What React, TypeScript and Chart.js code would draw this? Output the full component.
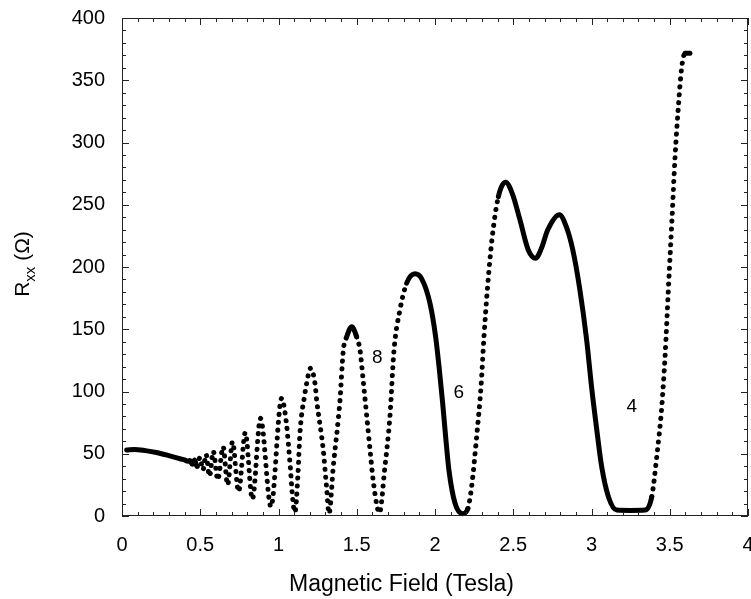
import React, { useEffect, useRef } from "react";
import { Chart, registerables } from "chart.js";

Chart.register(...registerables);

// Magnetic field (T) sampled along the trace
const fieldTesla = [
  0.03, 0.08, 0.15, 0.22, 0.30, 0.37, 0.40, 0.42, 0.434, 0.449,
  0.464, 0.48, 0.498, 0.517, 0.537, 0.559, 0.583, 0.612, 0.646, 0.675,
  0.706, 0.745, 0.788, 0.833, 0.885, 0.952, 1.02, 1.05, 1.075, 1.09,
  1.105, 1.125, 1.137, 1.169, 1.18, 1.204, 1.233, 1.244, 1.286, 1.307,
  1.323, 1.35, 1.393, 1.414, 1.436, 1.468, 1.499, 1.521, 1.543, 1.564,
  1.585, 1.607, 1.645, 1.68, 1.712, 1.738, 1.776, 1.819, 1.872, 1.915,
  1.968, 2.004, 2.028, 2.049, 2.068, 2.089, 2.128, 2.177, 2.21, 2.234,
  2.266, 2.294, 2.313, 2.336, 2.366, 2.405, 2.451, 2.494, 2.543, 2.596,
  2.643, 2.68, 2.72, 2.795, 2.84, 2.88, 2.926, 2.969, 3.001, 3.033,
  3.065, 3.108, 3.161, 3.25, 3.342, 3.385, 3.417, 3.449, 3.47, 3.491,
  3.513, 3.534, 3.555, 3.577, 3.598, 3.629,
];

// Longitudinal resistance Rxx (Ohm)
const resistanceOhm = [
  53, 53.5, 52.5, 51, 48.5, 46, 45, 44, 44.5, 41.5,
  45, 40, 47, 37, 49.5, 32, 52, 29, 55.7, 25,
  59.7, 19.5, 67, 13.5, 78.4, 7.5, 94.5, 75, 40, 15,
  3, 35, 66.4, 98.5, 106.6, 118.6, 106.6, 93, 53, 23.5,
  2, 39.6, 93, 133, 144, 152, 144, 133, 106.6, 80,
  53, 26.5, 2.5, 39.6, 79.8, 133, 165.5, 187, 194.5, 190.5,
  170.8, 144, 117.3, 90.5, 63.7, 36.9, 10.2, 1.8, 6, 23.5,
  63.7, 103.9, 144, 184.2, 224.3, 256.5, 268, 259, 237.8, 213.7,
  207, 215, 229.7, 242, 232, 214, 181.5, 141.4, 103, 70,
  39.6, 15.5, 4.8, 4.5, 4.8, 15.5, 47.6, 87.8, 128, 181.5,
  235, 288.6, 328.8, 360.9, 371.6, 371.6,
];

const xTickLabels = ["0", "0.5", "1", "1.5", "2", "2.5", "3", "3.5", "4"];
const yTickLabels = ["0", "50", "100", "150", "200", "250", "300", "350", "400"];

// Filling-factor annotations
const fillingLabels = ["8", "6", "4"];
const fillingField = [1.632, 2.152, 3.257];
const fillingResistance = [127, 99, 88];

const xTitle = "Magnetic Field (Tesla)";
const yTitleMain = "R";
const yTitleSub = "xx";
const yTitleRest = " (\u03A9)";

const FONT = "'Liberation Sans', Arial, Helvetica, sans-serif";

const decorPlugin = {
  id: "decor",
  afterDraw(chart: any) {
    const { ctx, chartArea: a, scales } = chart;
    const x = scales.x;
    const y = scales.y;
    ctx.save();
    ctx.strokeStyle = "#222";
    ctx.lineWidth = 1;
    ctx.strokeRect(a.left + 0.5, a.top + 0.5, a.right - a.left - 1, a.bottom - a.top - 1);
    ctx.beginPath();
    for (let i = 0; i <= 40; i++) {
      const px = Math.round(x.getPixelForValue(i / 10)) + 0.5;
      const len = i % 5 === 0 ? 7 : 4;
      ctx.moveTo(px, a.bottom);
      ctx.lineTo(px, a.bottom - len);
      ctx.moveTo(px, a.top);
      ctx.lineTo(px, a.top + len);
    }
    for (let i = 0; i <= 40; i++) {
      const py = Math.round(y.getPixelForValue(i * 10)) + 0.5;
      const len = i % 5 === 0 ? 7 : 4;
      ctx.moveTo(a.left, py);
      ctx.lineTo(a.left + len, py);
      ctx.moveTo(a.right, py);
      ctx.lineTo(a.right - len, py);
    }
    ctx.stroke();

    ctx.fillStyle = "#000";
    ctx.font = `19px ${FONT}`;
    ctx.textAlign = "center";
    ctx.textBaseline = "middle";
    fillingLabels.forEach((t, i) => {
      ctx.fillText(t, x.getPixelForValue(fillingField[i]), y.getPixelForValue(fillingResistance[i]));
    });

    // x-axis title
    ctx.font = `23px ${FONT}`;
    ctx.fillText(xTitle, 401.5, 585);

    // y-axis title with subscript
    ctx.translate(29, 264);
    ctx.rotate(-Math.PI / 2);
    ctx.textAlign = "left";
    ctx.textBaseline = "alphabetic";
    const mainFont = `21px ${FONT}`;
    const subFont = `15px ${FONT}`;
    ctx.font = mainFont;
    const w1 = ctx.measureText(yTitleMain).width;
    const w3 = ctx.measureText(yTitleRest).width;
    ctx.font = subFont;
    const w2 = ctx.measureText(yTitleSub).width;
    let sx = -(w1 + w2 + w3) / 2;
    ctx.font = mainFont;
    ctx.fillText(yTitleMain, sx, 0);
    sx += w1;
    ctx.font = subFont;
    ctx.fillText(yTitleSub, sx, 6);
    sx += w2;
    ctx.font = mainFont;
    ctx.fillText(yTitleRest, sx, 0);
    ctx.restore();
  },
};

export default function App() {
  const ref = useRef<HTMLCanvasElement | null>(null);

  useEffect(() => {
    const canvas = ref.current;
    if (!canvas) return;
    const points = fieldTesla.map((b, i) => ({ x: b, y: resistanceOhm[i] }));
    const chart = new Chart(canvas, {
      type: "line",
      data: {
        datasets: [
          {
            data: points,
            borderColor: "#000",
            backgroundColor: "#000",
            borderWidth: 5,
            borderCapStyle: "round",
            borderJoinStyle: "round",
            cubicInterpolationMode: "monotone",
            pointRadius: 0,
            fill: false,
            clip: false as any,
            segment: {
              borderDash: (ctx: any) => {
                const dx = Math.abs(ctx.p1.x - ctx.p0.x);
                const dy = ctx.p1.y - ctx.p0.y;
                const steep = Math.abs(dy) > 3 * dx;
                const rising = dy < 0;
                const b = fieldTesla[ctx.p0DataIndex];
                return steep && (rising || b < 1.7) ? [0.1, 7.8] : [];
              },
            },
          } as any,
        ],
      },
      options: {
        animation: false,
        responsive: false,
        events: [],
        layout: { padding: { left: 0, right: 3, top: 18, bottom: 0 } },
        plugins: { legend: { display: false }, tooltip: { enabled: false } },
        scales: {
          x: {
            type: "linear",
            min: 0,
            max: 4,
            grid: { display: false, drawTicks: false },
            border: { display: false },
            afterFit: (s: any) => {
              s.height = 83;
              s.paddingLeft = 0;
              s.paddingRight = 0;
            },
            ticks: {
              stepSize: 0.5,
              padding: 17,
              color: "#000",
              font: { family: FONT, size: 20 },
              maxRotation: 0,
              autoSkip: false,
              callback: (v: any) => {
                const idx = Math.round(Number(v) / 0.5);
                return xTickLabels[idx] ?? "";
              },
            },
          },
          y: {
            type: "linear",
            min: 0,
            max: 400,
            grid: { display: false, drawTicks: false },
            border: { display: false },
            afterFit: (s: any) => {
              s.width = 122;
              s.paddingTop = 0;
              s.paddingBottom = 0;
            },
            ticks: {
              stepSize: 50,
              padding: 17,
              color: "#000",
              font: { family: FONT, size: 20 },
              autoSkip: false,
              callback: (v: any) => {
                const idx = Math.round(Number(v) / 50);
                return yTickLabels[idx] ?? "";
              },
            },
          },
        },
      },
      plugins: [decorPlugin],
    });
    return () => chart.destroy();
  }, []);

  return (
    <div style={{ position: "fixed", left: 0, top: 0, width: 751, height: 599, background: "#fff" }}>
      <canvas ref={ref} width={751} height={599} style={{ display: "block", width: 751, height: 599 }} />
    </div>
  );
}
